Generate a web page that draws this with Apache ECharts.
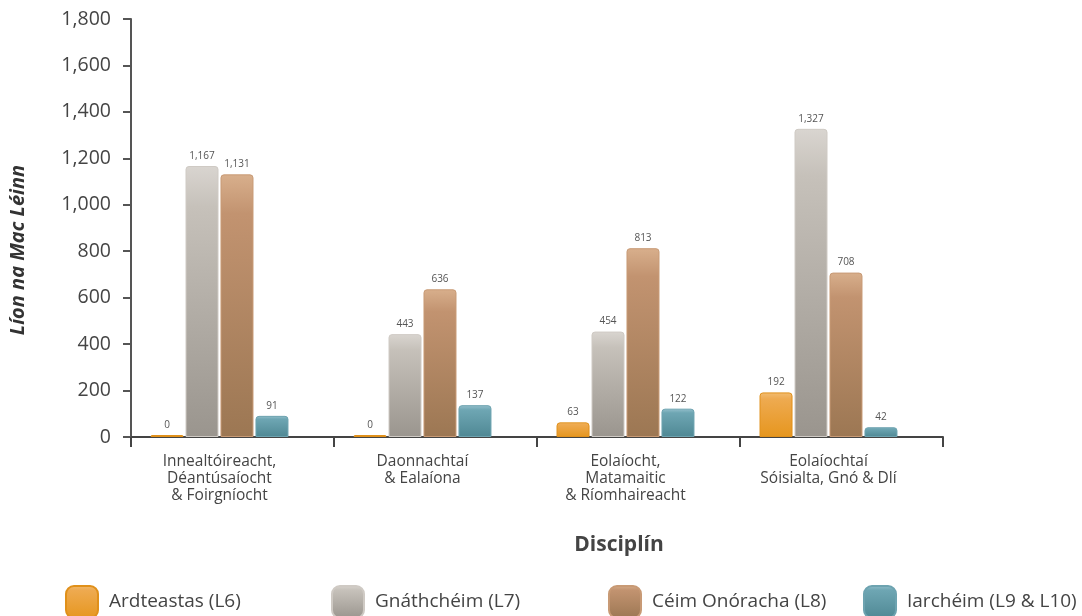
<!DOCTYPE html>
<html>
<head>
<meta charset="utf-8">
<script src="https://cdn.jsdelivr.net/npm/echarts@6/dist/echarts.min.js"></script>
<style>
html,body{margin:0;padding:0;background:#fff;}
#chart{width:1082px;height:616px;}
</style>
</head>
<body>
<div id="chart"></div>
<script>
const categories = [
  "Innealtóireacht,\nDéantúsaíocht\n& Foirgníocht",
  "Daonnachtaí\n& Ealaíona",
  "Eolaíocht,\nMatamaitic\n& Ríomhaireacht",
  "Eolaíochtaí\nSóisialta, Gnó & Dlí"
];
const seriesNames = ["Ardteastas (L6)", "Gnáthchéim (L7)", "Céim Onóracha (L8)", "Iarchéim (L9 & L10)"];
const ardteastas = [0, 0, 63, 192];
const gnathcheim = [1167, 443, 454, 1327];
const ceimOnoracha = [1131, 636, 813, 708];
const iarcheim = [91, 137, 122, 42];
const yTicks = { min: 0, max: 1800, interval: 200 };
const yAxisTitle = "Líon na Mac Léinn";
const xAxisTitle = "Disciplín";

const FONT = "'Open Sans', 'Noto Sans', sans-serif";
function grad(top, mid, bottom) {
  return new echarts.graphic.LinearGradient(0, 0, 0, 1, [
    {offset: 0, color: top}, {offset: 0.15, color: mid}, {offset: 1, color: bottom}
  ]);
}
const styles = [
  {color: grad('#F2BC72', '#EEAA50', '#E6961E'), borderColor: '#E0901A'},
  {color: grad('#D9D5D0', '#C6C1BA', '#9A958E'), borderColor: '#CFCAC4'},
  {color: grad('#D8AF8C', '#C29370', '#9C7753'), borderColor: '#C89A75'},
  {color: grad('#95C0CC', '#6EA6B3', '#4F8894'), borderColor: '#6DA3B0'}
];
const dataSets = [ardteastas, gnathcheim, ceimOnoracha, iarcheim];

const series = dataSets.map((d, i) => ({
  name: seriesNames[i],
  type: 'bar',
  xAxisIndex: 1,
  yAxisIndex: 1,
  data: d,
  barWidth: 33,
  barGap: '6%',
  barMinHeight: 2,
  itemStyle: {
    color: styles[i].color,
    borderColor: styles[i].borderColor,
    borderWidth: 1,
    borderRadius: [3, 3, 0, 0]
  },
  label: {
    show: true,
    position: 'top',
    distance: 5,
    fontSize: 10,
    fontFamily: FONT,
    color: '#555',
    formatter: p => p.value.toLocaleString('en-US')
  }
}));

const legendLefts = [60, 326, 603, 858];
const legends = seriesNames.map((n, i) => ({
  data: [n],
  left: legendLefts[i],
  top: 580,
  itemWidth: 32,
  itemHeight: 32,
  icon: 'roundRect',
  textStyle: {fontSize: 19, fontFamily: FONT, color: '#444', padding: [0, 0, 0, 6]}
}));

const chart = echarts.init(document.getElementById('chart'));
chart.setOption({
  backgroundColor: '#fff',
  animation: false,
  title: {
    text: xAxisTitle,
    left: 614,
    top: 530,
    textAlign: 'center',
    textStyle: {fontSize: 21, fontWeight: 'bold', fontFamily: FONT, color: '#444'}
  },
  graphic: [{
    type: 'text',
    rotation: Math.PI / 2,
    x: 18, y: 250,
    style: {
      text: yAxisTitle,
      fontSize: 20, fontWeight: 'bold', fontStyle: 'italic', fontFamily: FONT,
      fill: '#333', textAlign: 'center', textVerticalAlign: 'middle'
    }
  }],
  legend: legends,
  grid: [
    {left: 131, right: 139, top: 19, bottom: 179, containLabel: false},
    {left: 118, right: 152, top: 19, bottom: 179, containLabel: false}
  ],
  xAxis: [{
    type: 'category',
    gridIndex: 0,
    data: categories,
    axisLine: {lineStyle: {color: '#444', width: 2}},
    axisTick: {show: true, length: 10, lineStyle: {color: '#444', width: 2}},
    axisLabel: {show: false}
  }, {
    type: 'category',
    gridIndex: 1,
    data: categories,
    axisLine: {show: false},
    axisTick: {show: false},
    axisLabel: {
      fontSize: 15.5, fontFamily: FONT, color: '#444', lineHeight: 17, margin: 16,
      interval: 0
    }
  }],
  yAxis: [{
    type: 'value',
    gridIndex: 0,
    min: yTicks.min, max: yTicks.max, interval: yTicks.interval,
    axisLine: {show: true, lineStyle: {color: '#555', width: 2}},
    axisTick: {show: true, length: 8, lineStyle: {color: '#555', width: 2}},
    splitLine: {show: false},
    axisLabel: {fontSize: 19.5, fontFamily: FONT, color: '#444', margin: 20}
  }, {
    type: 'value',
    gridIndex: 1,
    min: yTicks.min, max: yTicks.max, interval: yTicks.interval,
    show: false,
    splitLine: {show: false}
  }],
  series: series
});
</script>
</body>
</html>
